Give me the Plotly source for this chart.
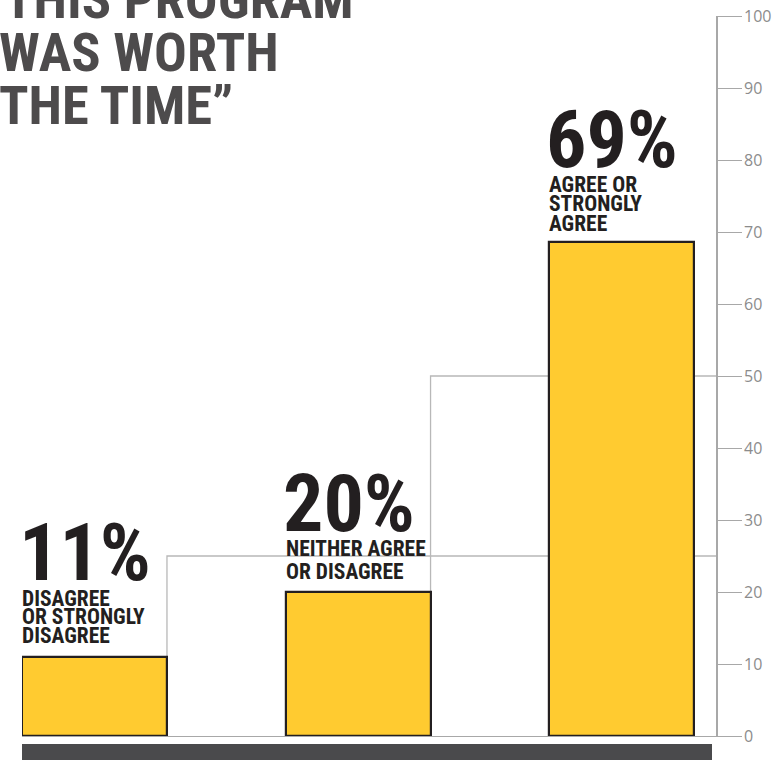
import plotly.graph_objects as go

# ---- data ----
categories = ["Disagree or strongly disagree", "Neither agree or disagree", "Agree or strongly agree"]
values = [11, 20, 68.6]
pct_labels = ["11%", "20%", "69%"]
sub_labels = [["DISAGREE", "OR STRONGLY", "DISAGREE"],
              ["NEITHER AGREE", "OR DISAGREE"],
              ["AGREE OR", "STRONGLY", "AGREE"]]
step_levels = [25, 50]
title_lines = ["\u201cTHIS PROGRAM", "WAS WORTH", "THE TIME\u201d"]
tick_vals = [0, 10, 20, 30, 40, 50, 60, 70, 80, 90, 100]

# ---- layout constants ----
W, H = 780, 760
ML, MR, MT, MB = 22, 64, 16, 24
BAR_W = 0.55
X_MIN, X_MAX = -0.275, 2.358
NARROW = "Roboto Condensed, Roboto, DejaVu Sans Condensed, sans-serif"
INK = "#231f20"
TITLE_C = "#4d4b4c"
AXIS_C = "#a8a8a8"
STEP_C = "#b8b8b8"
LAST_GAPS = [13, 12, 10]       # px from bar top to last sub-label baseline
PITCHES = [18.5, 23, 19.5]     # px between sub-label baselines
NUM_GAP = 25                   # px from first sub-label baseline to number baseline

xs = list(range(len(categories)))
fig = go.Figure()
fig.add_trace(go.Bar(
    x=xs, y=values, width=BAR_W,
    marker=dict(color="#FFCB30", line=dict(color=INK, width=2.2)),
    hoverinfo="skip", showlegend=False,
))

# step lines (below bars)
for i, lvl in enumerate(step_levels):
    xe = xs[i] + BAR_W / 2
    fig.add_shape(type="path", xref="x", yref="y", layer="below",
                  path=f"M {xe} 0 L {xe} {lvl} L {X_MAX} {lvl}",
                  line=dict(color=STEP_C, width=1.3))

plot_w = W - ML - MR
plot_h = H - MT - MB
def py(px):
    return (H - MB - px) / plot_h
def pxx(px):
    return (px - ML) / plot_w

# bottom dark band
fig.add_shape(type="rect", xref="paper", yref="paper",
              x0=pxx(22), x1=pxx(712), y0=py(744), y1=py(765),
              line=dict(width=0), fillcolor="#4a4a4c")

annotations = []
# title lines
title_fs = 54.5
for k, line in enumerate(title_lines):
    base = 20 + 53 * k
    xoff = -19 if line.startswith("\u201c") else -3
    annotations.append(dict(
        text=line, xref="paper", yref="paper", x=pxx(xoff), y=py(base + 0.22 * title_fs + 1),
        xanchor="left", yanchor="bottom", showarrow=False,
        font=dict(family=NARROW, size=title_fs, color=TITLE_C, weight="bold")))

# bar labels
sub_fs, num_fs = 21.5, 80
for i, (v, pct, subs) in enumerate(zip(values, pct_labels, sub_labels)):
    xl = xs[i] - BAR_W / 2
    n = len(subs)
    for j, s in enumerate(subs):
        gap = LAST_GAPS[i] + (n - 1 - j) * PITCHES[i]
        annotations.append(dict(
            text=s, xref="x", yref="y", x=xl, y=v, xanchor="left", yanchor="bottom",
            xshift=-2, yshift=gap - 0.22 * sub_fs - 1, showarrow=False,
            font=dict(family=NARROW, size=sub_fs, color=INK, weight="bold")))
    gap = LAST_GAPS[i] + (n - 1) * PITCHES[i] + NUM_GAP
    annotations.append(dict(
        text=pct, xref="x", yref="y", x=xl, y=v, xanchor="left", yanchor="bottom",
        xshift=-5, yshift=gap - 0.22 * num_fs - 3, showarrow=False,
        font=dict(family=NARROW, size=num_fs, color=INK, weight="bold")))

fig.update_layout(
    width=W, height=H, margin=dict(l=ML, r=MR, t=MT, b=MB, pad=0, autoexpand=False),
    paper_bgcolor="white", plot_bgcolor="white",
    annotations=annotations, bargap=0,
    xaxis=dict(range=[X_MIN, X_MAX], showgrid=False, zeroline=False, automargin=False,
               showticklabels=False, ticks="", showline=True,
               linecolor=AXIS_C, linewidth=1.3, fixedrange=True),
    yaxis=dict(range=[0, 100], side="right", showgrid=False, zeroline=False, automargin=False,
               showline=True, linecolor=AXIS_C, linewidth=1.6,
               ticks="outside", ticklen=24, tickwidth=1.3, tickcolor=AXIS_C,
               tickvals=tick_vals, ticklabelstandoff=-1,
               tickfont=dict(family="Open Sans, Noto Sans, sans-serif", size=16, color="#8c8c8c"),
               fixedrange=True),
)

fig.write_html("out.html", config={"displayModeBar": False},
               post_script="document.body.style.margin='0';document.body.style.overflow='hidden';")
